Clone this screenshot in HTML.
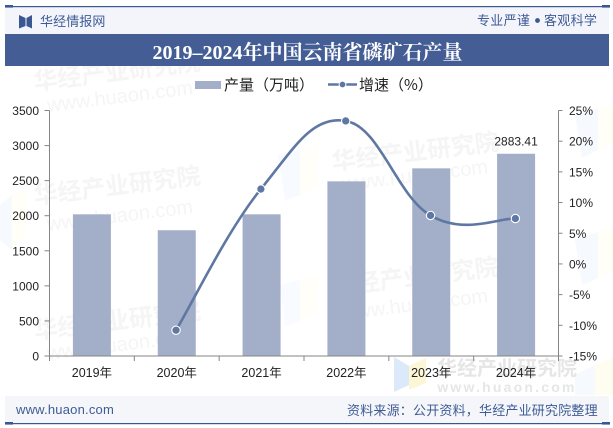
<!DOCTYPE html>
<html lang="zh">
<head>
<meta charset="utf-8">
<title>2019-2024年中国云南省磷矿石产量</title>
<style>
html,body{margin:0;padding:0;background:#fff;}
body{width:613px;height:428px;overflow:hidden;position:relative;}
svg{position:absolute;left:0;top:0;display:block;}
text{font-family:"Liberation Sans","Noto Sans CJK SC",sans-serif;}
.cjk{font-family:"Noto Sans CJK SC","WenQuanYi Zen Hei",sans-serif;}
</style>
</head>
<body>
<svg id="chart" width="613" height="428" viewBox="0 0 613 428" xmlns="http://www.w3.org/2000/svg">
  <g>
    <g>
      <polygon points="0,205 12,195 12,250 0,240" fill="#f6f9fe"/>
      <polygon points="12,195 26,190 26,235 12,250" fill="#fffef7"/>
      <polygon points="278,155 300,150 300,195 285,200" fill="#f7faff"/>
      <polygon points="300,150 318,145 318,187 300,195" fill="#fffef8"/>
      <polygon points="575,115 598,108 598,150 582,158" fill="#f6f9fe"/>
      <polygon points="598,108 613,105 613,145 598,150" fill="#fffef7"/>
      <polygon points="575,240 598,232 598,278 582,285" fill="#f6f9fe"/>
      <polygon points="598,232 613,228 613,270 598,278" fill="#fffef7"/>
      <polygon points="280,285 300,280 300,320 285,327" fill="#f8fbff"/>
      <polygon points="300,280 318,277 318,315 300,320" fill="#fffef8"/>
      <polygon points="394,357 409,366 409,385 394,392" fill="#dce9fb"/>
      <polygon points="409,366 426,358 426,383 409,390" fill="#fdf6d6"/>
      <polygon points="575,375 595,365 595,395 575,395" fill="#f6f9fe"/>
      <polygon points="595,365 613,358 613,395 595,395" fill="#fffdf0"/>
    </g>
    <g class="cjk" fill="#f5f5f5" font-size="24" font-weight="700">
      <text class="cjk" x="117" y="80" text-anchor="middle" transform="rotate(-7 117 72)">华经产业研究院</text>
      <text class="cjk" x="117" y="194" text-anchor="middle" transform="rotate(-7 117 185)">华经产业研究院</text>
      <text class="cjk" x="415" y="160" text-anchor="middle" transform="rotate(-7 415 150)">华经产业研究院</text>
      <text class="cjk" x="415" y="285" text-anchor="middle" transform="rotate(-7 415 275)">华经产业研究院</text>
      <text class="cjk" x="117" y="329" text-anchor="middle" transform="rotate(-7 117 320)">华经产业研究院</text>
    </g>
    <g fill="#f5f5f5" font-size="20">
      <text x="120" y="103" text-anchor="middle" transform="rotate(-7 120 97)">www.huaon.com</text>
      <text x="120" y="222" text-anchor="middle" transform="rotate(-7 120 216)">www.huaon.com</text>
      <text x="415" y="182" text-anchor="middle" transform="rotate(-7 415 176)">www.huaon.com</text>
      <text x="415" y="311" text-anchor="middle" transform="rotate(-7 415 305)">www.huaon.com</text>
      <text x="120" y="351" text-anchor="middle" transform="rotate(-7 120 345)">www.huaon.com</text>
    </g>
    <text class="cjk" x="507" y="375" text-anchor="middle" font-size="20" font-weight="700" fill="#e6e6e6">华经产业研究院</text>
    <text x="507" y="392" text-anchor="middle" font-size="14" font-weight="700" letter-spacing="2.2" fill="#e6e6e6">www.huaon.com</text>
  </g>

  <g>
    <rect x="5" y="7" width="604" height="27" fill="#f3f5fa"/>
    <rect x="5" y="6" width="605" height="1.2" fill="#3a5792"/>
    <rect x="5" y="5" width="8" height="2.6" fill="#3a5792"/>
    <rect x="602" y="5" width="8" height="2.6" fill="#3a5792"/>
    <g>
      <polygon points="19,15 25.5,18 25.5,26 19,28.5" fill="#3a5792"/>
      <polygon points="32,15 26.5,18 26.5,26 32,28.5" fill="#3a5792"/>
    </g>
    <text class="cjk" x="40" y="26" font-size="13" letter-spacing="0.1" fill="#3f5b95">华经情报网</text>
    <text class="cjk" x="477" y="25" font-size="13" letter-spacing="0.3" fill="#3f5b95">专业严谨</text>
    <circle cx="537.5" cy="20.5" r="2.4" fill="#3a5792"/>
    <text class="cjk" x="544" y="25" font-size="13" letter-spacing="0.3" fill="#3f5b95">客观科学</text>
    <rect x="5" y="34" width="604" height="32" fill="#445e95"/>
    <text x="307.5" y="59" text-anchor="middle" font-size="20" font-weight="700" fill="#fff" style='font-family:"Liberation Serif","Noto Serif CJK SC",serif'>2019–2024年中国云南省磷矿石产量</text>
  </g>

  <g>
    <g>
      <rect x="195" y="81" width="26" height="8" fill="#a3afc8"/>
      <text class="cjk" x="224" y="90" font-size="15" fill="#222">产量（万吨）</text>
    </g>
    <g>
      <line x1="328" x2="357" y1="84.5" y2="84.5" stroke="#5f77a3" stroke-width="2.4"/>
      <circle cx="342.5" cy="84.5" r="3.4" fill="#5f77a3" stroke="#fff" stroke-width="1"/>
      <text class="cjk" x="359" y="90" font-size="15" fill="#222">增速（%）</text>
    </g>
  </g>

  <g id="plot"></g>

  <g>
    <rect x="5" y="396" width="604" height="27" fill="#f3f5fa" fill-opacity="0.95"/>
    <rect x="5" y="423" width="605" height="1.2" fill="#3a5792"/>
    <rect x="5" y="422" width="8" height="2.6" fill="#3a5792"/>
    <rect x="602" y="422" width="8" height="2.6" fill="#3a5792"/>
    <text x="16" y="414" font-size="13" font-weight="400" letter-spacing="0.2" fill="#3f5b95">www.huaon.com</text>
    <text class="cjk" x="347" y="415" font-size="13" letter-spacing="0.2" fill="#3f5b95">资料来源：公开资料，华经产业研究院整理</text>
  </g>
</svg>
<script>
const categories = ['2019年', '2020年', '2021年', '2022年', '2023年', '2024年'];
const productionValues = [2020, 1793, 2020, 2490, 2675, 2883.41];
const growthValues = [null, -10.8, 12.2, 23.3, 7.9, 7.4];
const leftTickLabels = [0, 500, 1000, 1500, 2000, 2500, 3000, 3500];
const rightTickLabels = [-15, -10, -5, 0, 5, 10, 15, 20, 25];
const printedValues = [null, null, null, null, null, '2883.41'];

const SVG_NS = 'http://www.w3.org/2000/svg';
const plot = document.getElementById('plot');
const AXIS_LEFT = 49.5, AXIS_RIGHT = 558.5, AXIS_TOP = 110.5, AXIS_BOTTOM = 356;
const BAR_WIDTH = 38, TENSION = 0.2, LINE_OFFSET = -0.7;
const AXIS_COLOR = '#858585', TEXT_COLOR = '#222';

function make(tag, attrs, text) {
  const el = document.createElementNS(SVG_NS, tag);
  for (const k in attrs) el.setAttribute(k, attrs[k]);
  if (text !== undefined) el.textContent = text;
  plot.appendChild(el);
  return el;
}
function bandX(i) {
  return AXIS_LEFT + (AXIS_RIGHT - AXIS_LEFT) / categories.length * (i + 0.5);
}
function yLeft(v) {
  const max = leftTickLabels[leftTickLabels.length - 1], min = leftTickLabels[0];
  return AXIS_BOTTOM - (v - min) / (max - min) * (AXIS_BOTTOM - AXIS_TOP);
}
function yRight(v) {
  const max = rightTickLabels[rightTickLabels.length - 1], min = rightTickLabels[0];
  return AXIS_BOTTOM - (v - min) / (max - min) * (AXIS_BOTTOM - AXIS_TOP);
}

productionValues.forEach(function (v, i) {
  const top = yLeft(v);
  const bar = make('rect', { x: bandX(i) - BAR_WIDTH / 2, y: top, width: BAR_WIDTH, height: AXIS_BOTTOM - top, fill: '#a3afc8' });
  
  
});

const leftAxis = make('line', { x1: AXIS_LEFT, x2: AXIS_LEFT, y1: AXIS_TOP, y2: AXIS_BOTTOM, stroke: AXIS_COLOR, 'stroke-width': 1 });


const rightAxis = make('line', { x1: AXIS_RIGHT, x2: AXIS_RIGHT, y1: AXIS_TOP, y2: AXIS_BOTTOM, stroke: AXIS_COLOR, 'stroke-width': 1 });


const xAxis = make('line', { x1: AXIS_LEFT, x2: AXIS_RIGHT, y1: AXIS_BOTTOM, y2: AXIS_BOTTOM, stroke: AXIS_COLOR, 'stroke-width': 1 });



leftTickLabels.forEach(function (v) {
  const y = yLeft(v);
  const tick = make('line', { x1: AXIS_LEFT - 5, x2: AXIS_LEFT, y1: y, y2: y, stroke: AXIS_COLOR, 'stroke-width': 1 });
  
  
  const label = make('text', { x: 39, y: y + 4.5, 'text-anchor': 'end', 'font-size': 12, fill: TEXT_COLOR }, String(v));
  
  
});

rightTickLabels.forEach(function (v) {
  const y = yRight(v);
  const tick = make('line', { x1: AXIS_RIGHT, x2: AXIS_RIGHT + 4, y1: y, y2: y, stroke: AXIS_COLOR, 'stroke-width': 1 });
  
  
  const label = make('text', { x: 569, y: y + 4.5, 'font-size': 12, fill: TEXT_COLOR }, v + '%');
  
  
});

for (let i = 0; i <= categories.length; i++) {
  const x = AXIS_LEFT + (AXIS_RIGHT - AXIS_LEFT) / categories.length * i;
  const tick = make('line', { x1: x, x2: x, y1: AXIS_BOTTOM, y2: AXIS_BOTTOM + 5, stroke: AXIS_COLOR, 'stroke-width': 1 });
  
  
}
categories.forEach(function (c, i) {
  const label = make('text', { x: bandX(i), y: 377, 'text-anchor': 'middle', 'font-size': 12.5, fill: TEXT_COLOR }, c);
  
  
});

const points = [];
growthValues.forEach(function (v, i) {
  if (v !== null) points.push({ x: bandX(i) + LINE_OFFSET, y: yRight(v) });
});
let d = 'M' + points[0].x + ' ' + points[0].y;
for (let i = 0; i < points.length - 1; i++) {
  const p0 = points[Math.max(i - 1, 0)], p1 = points[i], p2 = points[i + 1], p3 = points[Math.min(i + 2, points.length - 1)];
  const c1x = p1.x + (p2.x - p0.x) * TENSION, c1y = p1.y + (p2.y - p0.y) * TENSION;
  const c2x = p2.x - (p3.x - p1.x) * TENSION, c2y = p2.y - (p3.y - p1.y) * TENSION;
  d += ' C' + c1x + ' ' + c1y + ' ' + c2x + ' ' + c2y + ' ' + p2.x + ' ' + p2.y;
}
const growthLine = make('path', { d: d, fill: 'none', stroke: '#5f77a3', 'stroke-width': 2.6, 'stroke-linejoin': 'round' });



points.forEach(function (p) {
  const dot = make('circle', { cx: p.x, cy: p.y, r: 4.2, fill: '#5f77a3', stroke: '#fff', 'stroke-width': 1.1 });
  
  
});

printedValues.forEach(function (t, i) {
  if (t === null) return;
  const label = make('text', { x: bandX(i), y: yLeft(productionValues[i]) - 8, 'text-anchor': 'middle', 'font-size': 12, fill: TEXT_COLOR }, t);
  
  
});
</script>
</body>
</html>
